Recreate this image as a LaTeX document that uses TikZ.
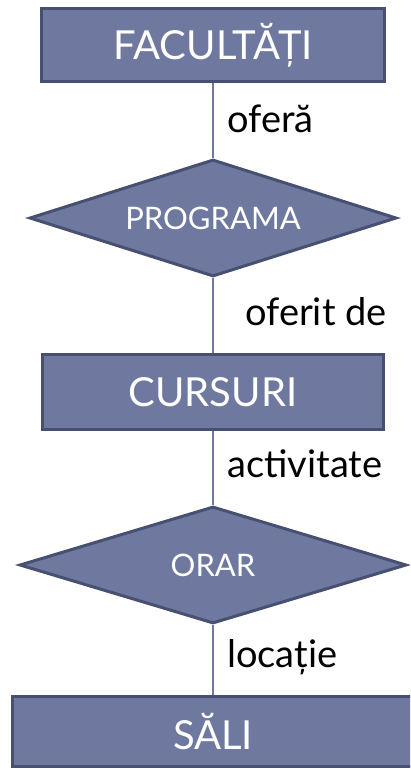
\documentclass[tikz,border=0pt]{standalone}
\usepackage{fontspec}
\setmainfont{Lato}
\usetikzlibrary{shapes.geometric}
\definecolor{fillc}{RGB}{111,121,160}
\definecolor{bordc}{RGB}{72,80,114}
\definecolor{linec}{RGB}{111,121,160}
\begin{document}
\begin{tikzpicture}[x=1pt,y=-1pt,
  entbox/.style={draw=bordc, line width=3pt, fill=fillc, text=white, inner sep=0pt,
    font=\fontsize{40}{44}\selectfont},
  reldia/.style={diamond, aspect=3.2, draw=bordc, line width=3pt, fill=fillc, text=white, inner sep=0pt,
    font=\fontsize{31}{34}\selectfont},
  conn/.style={draw=linec, line width=1.5pt},
  lbl/.style={anchor=base west, inner sep=0pt, text=black, font=\fontsize{38}{42}\selectfont}]
\useasboundingbox (0,0) rectangle (410,770);
\clip (0,0) rectangle (410,770);
\node[entbox, minimum width=343pt, minimum height=73pt] (fac) at (213,45) {FACULTĂȚI};
\node[reldia, minimum width=367pt, minimum height=117pt] (prog) at (213,218) {PROGRAMA};
\node[entbox, minimum width=341pt, minimum height=75pt] (cur) at (213,392) {CURSURI};
\node[reldia, minimum width=387pt, minimum height=117pt] (orar) at (213,565) {ORAR};
\node[entbox, minimum width=401pt, minimum height=70pt] (sali) at (213,731.5) {SĂLI};
\draw[conn] (fac.south) -- (prog.north);
\draw[conn] (prog.south) -- (cur.north);
\draw[conn] (cur.south) -- (orar.north);
\draw[conn] (orar.south) -- (sali.north);
\node[lbl] (l1) at (227,133) {oferă};
\node[lbl] (l2) at (245,325) {oferit de};
\node[lbl] (l3) at (227,477) {activitate};
\node[lbl] (l4) at (227,667) {locație};
\end{tikzpicture}
\end{document}
